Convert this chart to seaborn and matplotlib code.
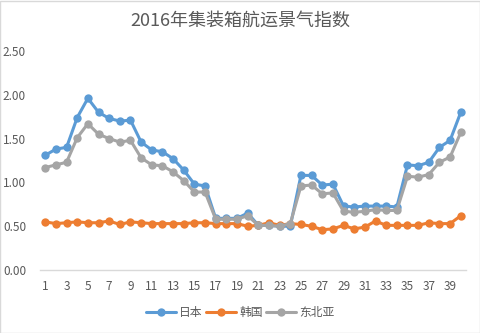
import matplotlib
matplotlib.use("Agg")
import matplotlib.pyplot as plt
import seaborn as sns
import pandas as pd

weeks = list(range(1, 41))
japan = [1.31, 1.38, 1.40, 1.74, 1.96, 1.80, 1.73, 1.70, 1.71, 1.46,
         1.37, 1.35, 1.27, 1.14, 0.98, 0.96, 0.59, 0.59, 0.59, 0.65,
         0.51, 0.51, 0.50, 0.50, 1.08, 1.08, 0.97, 0.98, 0.73, 0.72,
         0.73, 0.73, 0.73, 0.72, 1.20, 1.19, 1.23, 1.40, 1.48, 1.80]
korea = [0.55, 0.53, 0.54, 0.55, 0.54, 0.54, 0.56, 0.52, 0.55, 0.54,
         0.53, 0.53, 0.53, 0.53, 0.54, 0.54, 0.53, 0.53, 0.53, 0.50,
         0.51, 0.54, 0.51, 0.53, 0.52, 0.50, 0.46, 0.47, 0.51, 0.47,
         0.49, 0.56, 0.51, 0.51, 0.51, 0.51, 0.54, 0.53, 0.53, 0.62]
northeast_asia = [1.17, 1.20, 1.23, 1.51, 1.67, 1.55, 1.50, 1.46, 1.48, 1.28,
                  1.20, 1.19, 1.12, 1.02, 0.89, 0.89, 0.58, 0.58, 0.58, 0.62,
                  0.51, 0.51, 0.50, 0.53, 0.96, 0.97, 0.87, 0.88, 0.67, 0.66,
                  0.67, 0.69, 0.68, 0.68, 1.07, 1.06, 1.09, 1.23, 1.29, 1.57]
series_names = ["日本", "韩国", "东北亚"]
colors = ["#5B9BD5", "#ED7D31", "#A5A5A5"]
title = "2016年集装箱航运景气指数"

df = pd.DataFrame({"week": weeks, series_names[0]: japan,
                   series_names[1]: korea, series_names[2]: northeast_asia})
long_df = df.melt(id_vars="week", var_name="series", value_name="index")

sns.set_theme(style="white")
plt.rcParams["font.family"] = ["Noto Sans CJK SC", "DejaVu Sans"]

fig = plt.figure(figsize=(4.81, 3.33), dpi=100)
ax = fig.add_axes([0.083, 0.189, 0.886, 0.658])

sns.lineplot(data=long_df, x="week", y="index", hue="series",
             hue_order=series_names, palette=colors, marker="o",
             markersize=6, markeredgewidth=0, linewidth=2.2, ax=ax)

ax.set_xlim(0.5, 40.5)
ax.set_ylim(0, 2.5)
ax.set_yticks([0, 0.5, 1.0, 1.5, 2.0, 2.5])
ax.set_yticklabels([f"{v:.2f}" for v in [0, 0.5, 1.0, 1.5, 2.0, 2.5]])
ax.set_xticks(list(range(1, 41, 2)))
ax.set_xticklabels([str(v) for v in range(1, 41, 2)])
ax.tick_params(axis="both", length=0, labelsize=8.5, colors="#595959")
ax.tick_params(axis="y", pad=10)
ax.tick_params(axis="x", pad=7)
ax.set_xlabel("")
ax.set_ylabel("")
for side in ["top", "right", "left"]:
    ax.spines[side].set_visible(False)
ax.spines["bottom"].set_color("#D9D9D9")
ax.spines["bottom"].set_linewidth(1)

fig.suptitle(title, y=0.965, fontsize=13, color="#595959")

handles, labels = ax.get_legend_handles_labels()
ax.legend_.remove()
fig.legend(handles, labels, loc="center", bbox_to_anchor=(0.5, 0.062),
           ncol=3, frameon=False, fontsize=8.5, labelcolor="#595959",
           handlelength=2.5, handletextpad=0.3, columnspacing=0.3)

border = plt.Rectangle((0.001, 0.001), 0.997, 0.996, transform=fig.transFigure,
                       fill=False, edgecolor="#D9D9D9", linewidth=1)
fig.patches.append(border)

fig.savefig("out.png", dpi=100)
